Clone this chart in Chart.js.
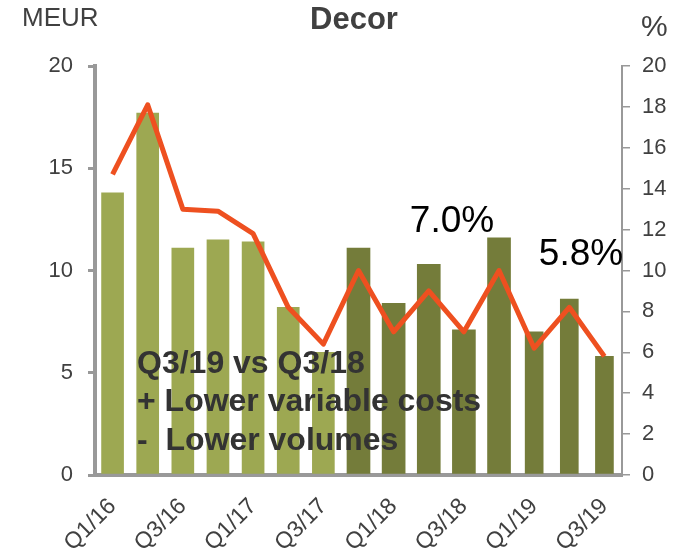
<!DOCTYPE html>
<html>
<head>
<meta charset="utf-8">
<script src="https://cdn.jsdelivr.net/npm/chart.js@4/dist/chart.umd.min.js"></script>
<style>
  html, body { margin: 0; padding: 0; background: #fff; }
  canvas { display: block; }
</style>
</head>
<body>
<canvas id="grafico" width="688" height="551"></canvas>
<script>
/* ============ DATOS ============ */
const trimestres = ["Q1/16","Q2/16","Q3/16","Q4/16","Q1/17","Q2/17","Q3/17","Q4/17",
                    "Q1/18","Q2/18","Q3/18","Q4/18","Q1/19","Q2/19","Q3/19"];
// EBITDA MEUR (barras)
const ebitda = [13.8, 17.7, 11.1, 11.5, 11.4, 8.2, 6.0, 11.1, 8.4, 10.3, 7.1, 11.6, 7.0, 8.6, 5.8];
// margen % (línea)
const margen = [14.7, 18.1, 13.0, 12.9, 11.8, 8.2, 6.4, 10.0, 7.0, 9.0, 7.0, 10.0, 6.2, 8.2, 5.8];
const ticksIzq = [0, 5, 10, 15, 20];
const ticksDer = [0, 2, 4, 6, 8, 10, 12, 14, 16, 18, 20];
const etiquetas = [
  { texto: "7.0%", x: 452, y: 232 },
  { texto: "5.8%", x: 581, y: 265 }
];
const notas = ["Q3/19 vs Q3/18", "+ Lower variable costs", "-  Lower volumes"];

/* ============ SERIES DE BARRAS ============ */
const claro = ebitda.map((v, i) => i < 7 ? v : null);
const oscuro = ebitda.map((v, i) => i >= 7 && i < 12 ? v : null);
const oscuroFino = ebitda.map((v, i) => i >= 12 ? v : null);

Chart.defaults.font.family = "'Liberation Sans', Arial, sans-serif";
Chart.defaults.color = "#404040";

/* ============ TEXTOS EXTRA ============ */
const textos = {
  id: "textos",
  afterDraw(chart) {
    const ctx = chart.ctx;
    ctx.save();
    ctx.textBaseline = "alphabetic";

    ctx.fillStyle = "#404040";
    ctx.font = "bold 31px 'Liberation Sans', Arial, sans-serif";
    ctx.textAlign = "center";
    ctx.fillText("Decor", 354, 29);

    ctx.font = "26px 'Liberation Sans', Arial, sans-serif";
    ctx.textAlign = "left";
    ctx.fillText("MEUR", 22, 26);

    ctx.font = "30px 'Liberation Sans', Arial, sans-serif";
    ctx.fillText("%", 641, 36);

    ctx.fillStyle = "#000";
    ctx.font = "37px 'Liberation Sans', Arial, sans-serif";
    ctx.textAlign = "center";
    etiquetas.forEach(e => ctx.fillText(e.texto, e.x, e.y));

    ctx.fillStyle = "#333";
    ctx.font = "bold 32px 'Liberation Sans', Arial, sans-serif";
    ctx.textAlign = "left";
    const bases = [373, 411, 450];
    notas.forEach((t, i) => ctx.fillText(t, 137, bases[i]));
    ctx.restore();
  }
};

/* ============ GRÁFICA ============ */
new Chart(document.getElementById("grafico"), {
  data: {
    labels: trimestres,
    datasets: [
      {
        type: "line", data: margen, yAxisID: "y1", order: 0,
        borderColor: "#EE5020", borderWidth: 5, pointRadius: 0, tension: 0,
        borderJoinStyle: "round", borderCapStyle: "butt"
      },
      { type: "bar", data: claro, yAxisID: "y", order: 1, backgroundColor: "#9DA852", barThickness: 22, grouped: false },
      { type: "bar", data: oscuro, yAxisID: "y", order: 1, backgroundColor: "#747C3A", barThickness: 23, grouped: false },
      { type: "bar", data: oscuroFino, yAxisID: "y", order: 1, backgroundColor: "#747C3A", barThickness: 18, grouped: false }
    ]
  },
  options: {
    responsive: false,
    animation: false,
    devicePixelRatio: 1,
    layout: { padding: { top: 66, left: 0, right: 0, bottom: 0 } },
    plugins: { legend: { display: false }, tooltip: { enabled: false } },
    scales: {
      x: {
        offset: true,
        grid: { display: false },
        border: { display: true, color: "#999", width: 4 },
        ticks: {
          autoSkip: false, maxRotation: 45, minRotation: 45, padding: 10,
          font: { size: 23 }, color: "#404040",
          callback: (v, i) => i % 2 === 0 ? trimestres[i] : ""
        },
        afterFit: s => { s.height = 76; }
      },
      y: {
        position: "left", min: 0, max: 20,
        afterBuildTicks: s => { s.ticks = ticksIzq.map(v => ({ value: v })); },
        grid: { drawOnChartArea: false, drawTicks: true, tickLength: 7, color: "#999", lineWidth: 3 },
        border: { color: "#999", width: 4 },
        ticks: { padding: 15, font: { size: 22 }, color: "#404040" },
        afterFit: s => { s.width = 95; }
      },
      y1: {
        position: "right", min: 0, max: 20,
        afterBuildTicks: s => { s.ticks = ticksDer.map(v => ({ value: v })); },
        grid: { drawOnChartArea: false, drawTicks: true, tickLength: 8, color: "#999", lineWidth: 1.5 },
        border: { color: "#999", width: 2 },
        ticks: { padding: 12, font: { size: 22 }, color: "#404040" },
        afterFit: s => { s.width = 66; }
      }
    }
  },
  plugins: [textos]
});
</script>
</body>
</html>
